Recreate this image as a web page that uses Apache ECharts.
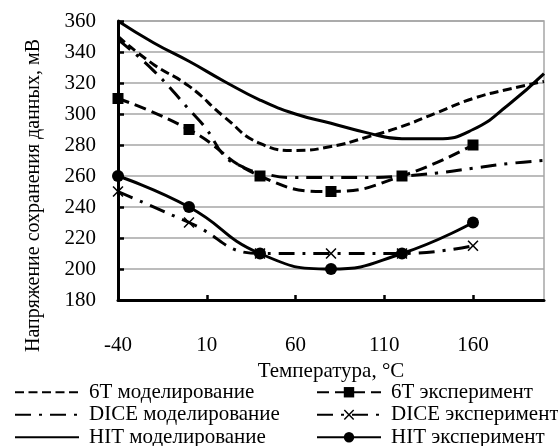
<!DOCTYPE html>
<html>
<head>
<meta charset="utf-8">
<script src="https://cdn.jsdelivr.net/npm/echarts@6/dist/echarts.min.js"></script>
<style>html,body{margin:0;padding:0;background:#fff;}#c{width:558px;height:446px;}</style>
</head>
<body>
<div id="c"></div>
<script>
// ---- data ----
const xTickLabels = [-40, 10, 60, 110, 160];
const yTickMin = 180, yTickMax = 360, yTickStep = 20;

const modelX = [-40, -20, 0, 20, 40, 60, 80, 100, 120, 140, 160, 180, 200];
const model6T = [350, 332, 318, 298, 281, 276.5, 279, 285, 292, 301, 310, 316, 321];
const modelHIT = [360, 346, 334, 321, 309, 300, 294, 288, 284, 284, 290, 306, 326];

const modelDICEX = [-40, -20, 0, 10, 20, 30, 40, 60, 80, 100, 120, 140, 160, 180, 200];
const modelDICE = [348, 328, 303, 290, 273, 266, 262, 259, 259, 259, 260, 262, 265, 268, 270];

const expX = [-40, 0, 40, 80, 120, 160];
const exp6T = [310, 290, 260, 250, 260, 280];
const expDICE = [250, 230, 210, 210, 210, 215];
const expHIT = [260, 240, 210, 200, 210, 230];

const names = {
  m6T: '6T моделирование', e6T: '6T эксперимент',
  mDICE: 'DICE моделирование', eDICE: 'DICE эксперимент',
  mHIT: 'HIT моделирование', eHIT: 'HIT эксперимент'
};

const zip = (xs, ys) => xs.map((x, i) => [x, ys[i]]);
const FONT = 'Liberation Serif';
const FS = 21;
const X_PATH = 'path://M0,1L1,0L5,4L9,0L10,1L6,5L10,9L9,10L5,6L1,10L0,9L4,5Z';

function lineSeries(name, data, dash, symbol, size) {
  return {
    name, type: 'line', data, smooth: true,
    lineStyle: { color: '#000', width: 3, type: dash, cap: 'butt' },
    itemStyle: { color: symbol ? '#000' : 'transparent' },
    symbol: symbol || 'circle', symbolSize: size || 0,
    showSymbol: !!symbol, z: 3
  };
}

const legendCommon = {
  orient: 'vertical', top: 376, height: 80, itemWidth: 64, itemHeight: 13, itemGap: 0,
  textStyle: { fontFamily: FONT, fontSize: FS, color: '#000', lineHeight: 22.5, padding: [0, 0, 0, 5] },
  selectedMode: false
};

const chart = echarts.init(document.getElementById('c'), null, { renderer: 'canvas' });
chart.setOption({
  animation: false,
  backgroundColor: '#fff',
  textStyle: { fontFamily: FONT, color: '#000' },
  grid: { left: 118, right: 14, top: 21, bottom: 146, show: true, borderColor: '#a6a6a6', borderWidth: 1.5, outerBoundsMode: 'none' },
  xAxis: {
    type: 'value', min: -40, max: 200, interval: 50,
    name: 'Температура, °C', nameLocation: 'middle', nameGap: 52,
    nameTextStyle: { fontFamily: FONT, fontSize: FS, color: '#000' },
    axisLine: { onZero: false, lineStyle: { color: '#000', width: 3 } },
    axisTick: { inside: true, length: 5, lineStyle: { color: '#000', width: 2.5 }, customValues: [10, 60, 110, 160] },
    axisLabel: { fontFamily: FONT, fontSize: FS, color: '#000', margin: 35, customValues: xTickLabels },
    splitLine: { show: false }
  },
  yAxis: {
    type: 'value', min: yTickMin, max: yTickMax, interval: yTickStep,
    name: 'Напряжение сохранения данных, мВ', nameLocation: 'middle', nameGap: 74,
    nameTextStyle: { fontFamily: FONT, fontSize: 20, color: '#000', padding: [0, 70, 0, 0] },
    axisLine: { show: true, onZero: false, lineStyle: { color: '#000', width: 3 } },
    axisTick: { show: true, inside: true, length: 6, lineStyle: { color: '#000', width: 2.5 } },
    axisLabel: { fontFamily: FONT, fontSize: FS, color: '#000', margin: 22 },
    splitLine: { show: true, lineStyle: { color: '#a6a6a6', width: 1.5 } }
  },
  legend: [
    Object.assign({}, legendCommon, { left: 9, data: [names.m6T, names.mDICE, names.mHIT] }),
    Object.assign({}, legendCommon, { left: 311, data: [names.e6T, names.eDICE, names.eHIT] })
  ],
  series: [
    lineSeries(names.m6T, zip(modelX, model6T), [9, 4.5]),
    lineSeries(names.e6T, zip(expX, exp6T), [12, 6], 'rect', 11),
    lineSeries(names.mDICE, zip(modelDICEX, modelDICE), [16, 8, 3, 8]),
    lineSeries(names.eDICE, zip(expX, expDICE), [16, 8, 3, 8], X_PATH, 11),
    lineSeries(names.mHIT, zip(modelX, modelHIT), 'solid'),
    lineSeries(names.eHIT, zip(expX, expHIT), 'solid', 'circle', 12)
  ]
});
</script>
</body>
</html>
